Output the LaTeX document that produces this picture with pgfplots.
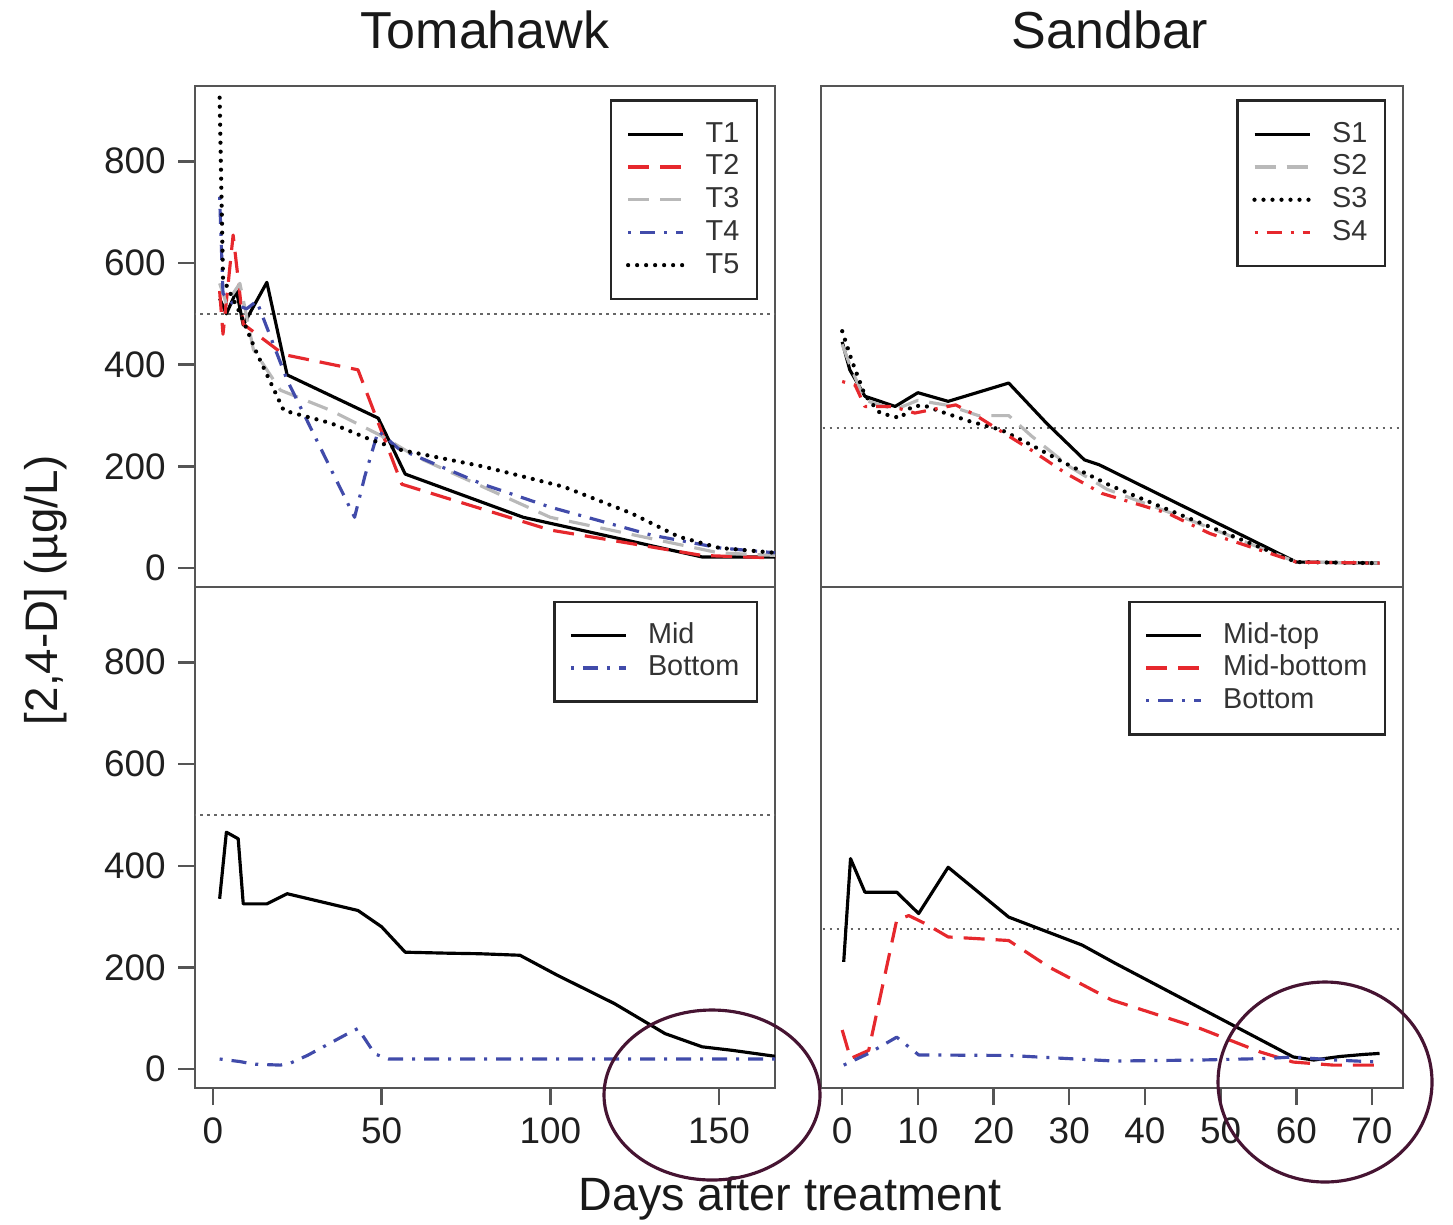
\documentclass[border=0pt]{standalone}
\usepackage{fontspec}
\setmainfont{Liberation Sans}
\usepackage{pgfplots}
\pgfplotsset{compat=1.18}
\definecolor{rred}{RGB}{230,40,45}
\definecolor{rblue}{RGB}{65,75,170}
\definecolor{rgray}{RGB}{185,185,185}
\definecolor{axgray}{RGB}{85,85,85}
\definecolor{circ}{RGB}{70,20,50}
\pgfplotsset{
  panel/.style={
    scale only axis, height=50.1mm, ymin=-37, ymax=948,
    axis line style={draw=axgray, line width=0.7pt},
    tick style={draw=axgray, line width=0.7pt},
    tick align=outside, major tick length=1.7mm,
    /pgf/number format/assume math mode=true,
    tick label style={font=\fontsize{10.5}{12}\selectfont, text=black!88},
    xtick pos=bottom, ytick pos=left,
    legend cell align=left,
    legend image code/.code={\draw[##1] (0mm,0mm) -- (5.5mm,0mm);},
    legend style={at={(1,1)}, anchor=north east, xshift=-1.7mm, yshift=-1.35mm,
      draw=black!85, line width=0.7pt, font=\fontsize{8.2}{9}\selectfont,
      text=black!80, inner xsep=1.5mm, inner ysep=1.8mm, row sep=0.4pt,
      column sep=1.8mm,
      nodes={text height=6pt, text depth=1.5pt, inner sep=0.7pt}},
  },
  L/.style={panel, width=58mm, xmin=-5.3, xmax=166.6},
  R/.style={panel, width=58.2mm, xmin=-2.8, xmax=74.1, ytick=\empty},
  sblk/.style={black, line width=0.9pt, line join=round},
  rdash/.style={rred, line width=0.9pt, line join=round, dash pattern=on 2.1mm off 1.1mm},
  gdash/.style={rgray, line width=0.9pt, line join=round, dash pattern=on 2.1mm off 1.1mm},
  bdd/.style={rblue, line width=0.9pt, line join=round, dash pattern=on 0.3mm off 0.9mm on 1.5mm off 0.9mm},
  rdd/.style={rred, line width=0.9pt, line join=round, dash pattern=on 0.3mm off 0.9mm on 1.5mm off 0.9mm},
  kdot/.style={black, line width=1.2pt, line cap=round, line join=round, dash pattern=on 0pt off 0.9mm},
  refl/.style={black!60, line width=0.6pt, dash pattern=on 0.25mm off 0.45mm, forget plot},
}
\begin{document}
\begin{tikzpicture}
\useasboundingbox (0,0) rectangle (145.3mm,-122.4mm);
% ---------- Tomahawk top
\begin{axis}[L, at={(19.5mm,-8.6mm)}, anchor=north west, xtick=\empty, ytick={0,200,400,600,800}]
\addplot[refl] coordinates {(-10,500) (200,500)};
\addplot[sblk] coordinates {(2,530) (4,500) (7,545) (9,478) (16,562) (22,380) (49,295) (57,185) (92,100) (145,22) (167,22)};
\addlegendentry{T1}
\addplot[rdash] coordinates {(2,545) (3,460) (6,655) (9,480) (21,420) (43,390) (56,165) (100,75) (145,25) (167,20)};
\addlegendentry{T2}
\addplot[gdash] coordinates {(2,560) (4,520) (8,560) (12,430) (20,350) (35,310) (50,260) (60,220) (100,100) (150,30) (167,25)};
\addlegendentry{T3}
\addplot[bdd] coordinates {(2,730) (3,540) (6,520) (10,510) (13,525) (22,370) (42,100) (45,180) (49,270) (55,235) (80,165) (100,120) (130,65) (150,40) (167,30)};
\addlegendentry{T4}
\addplot[kdot] coordinates {(2,925) (3,570) (8,502) (13,423) (21,310) (35,285) (47,252) (56,232) (80,200) (104,160) (124,108) (138,62) (150,40) (167,30)};
\addlegendentry{T5}
\end{axis}
% ---------- Tomahawk bottom
\begin{axis}[L, at={(19.5mm,-58.7mm)}, anchor=north west, xtick={0,50,100,150}, ytick={0,200,400,600,800}]
\addplot[refl] coordinates {(-10,500) (200,500)};
\addplot[sblk] coordinates {(2,335) (4,466) (7.5,453) (9,325) (16,325) (22,345) (43,312) (50,280) (57,230) (70,228) (79,227) (91,224) (102,185) (119,129) (134,70) (145,44) (154,37) (167,25)};
\addlegendentry{Mid}
\addplot[bdd] coordinates {(2,20) (8,15) (12,10) (20,8) (23,12) (28,27) (40,70) (43,80) (48,30) (52,20) (100,20) (167,20)};
\addlegendentry{Bottom}
\end{axis}
% ---------- Sandbar top
\begin{axis}[R, at={(82.1mm,-8.6mm)}, anchor=north west, xtick=\empty]
\addplot[refl] coordinates {(-10,276) (100,276)};
\addplot[sblk] coordinates {(0,445) (1,390) (3,338) (7,318) (10,345) (14,328) (22,364) (27,285) (32,213) (34,203) (60,12) (71,10)};
\addlegendentry{S1}
\addplot[gdash] coordinates {(0,440) (1,400) (3,330) (7,312) (10,330) (14,320) (18,300) (22,300) (25,260) (30,200) (35,155) (45,100) (60,12) (71,10)};
\addlegendentry{S2}
\addplot[kdot] coordinates {(0,466) (1.3,407) (3,340) (5,305) (7.7,295) (9.2,318) (10.8,320) (13,308) (17,288) (21,272) (25,242) (29.5,206) (35.5,162) (41.6,124) (45.5,100) (60,12) (70,10)};
\addlegendentry{S3}
\addplot[rdd] coordinates {(0,367) (1.7,360) (3,318) (6.6,318) (9.6,305) (15,321) (17.6,301) (21,269) (25,232) (29.5,187) (34.3,147) (43,108) (48.6,68) (60,12) (71,10)};
\addlegendentry{S4}
\end{axis}
% ---------- Sandbar bottom
\begin{axis}[R, at={(82.1mm,-58.7mm)}, anchor=north west, xtick={0,10,20,30,40,50,60,70}]
\addplot[refl] coordinates {(-10,276) (100,276)};
\addplot[sblk] coordinates {(0.2,211) (1.1,414) (3,348) (7.2,348) (10.1,306) (14,397) (22,299) (31.7,244) (36.1,208) (59.6,24) (62.3,18) (65.8,25) (68.9,29) (71,31)};
\addlegendentry{Mid-top}
\addplot[rdash] coordinates {(0,77) (1.1,21) (3.5,37) (7.2,293) (8.8,302) (11,286) (14,260) (22,253) (27.3,201) (35.6,136) (47.3,80) (55.2,34) (59.6,14) (64.9,8) (71,8)};
\addlegendentry{Mid-bottom}
\addplot[bdd] coordinates {(0.2,8) (3.5,31) (7.2,63) (10.1,28) (22,27) (36,16) (47.3,18) (56,21) (59.6,24) (65,18) (71,14)};
\addlegendentry{Bottom}
\end{axis}
% ---------- labels
\node[font=\fontsize{14.8}{16}\selectfont, text=black!90] at (48.5mm,-3mm) {Tomahawk};
\node[font=\fontsize{14.8}{16}\selectfont, text=black!90] at (111mm,-3mm) {Sandbar};
\node[font=\fontsize{13}{15}\selectfont, text=black!90, rotate=90] at (4.6mm,-59mm) {[2,4-D] (µg/L)};
\node[font=\fontsize{13.3}{15}\selectfont, text=black!90] at (79mm,-119.8mm) {Days after treatment};
% ---------- annotation circles
\draw[circ, line width=0.9pt] (71.2mm,-109.5mm) ellipse (10.8mm and 8.5mm);
\draw[circ, line width=0.9pt] (132.5mm,-108.2mm) ellipse (10.7mm and 10mm);
\end{tikzpicture}
\end{document}
